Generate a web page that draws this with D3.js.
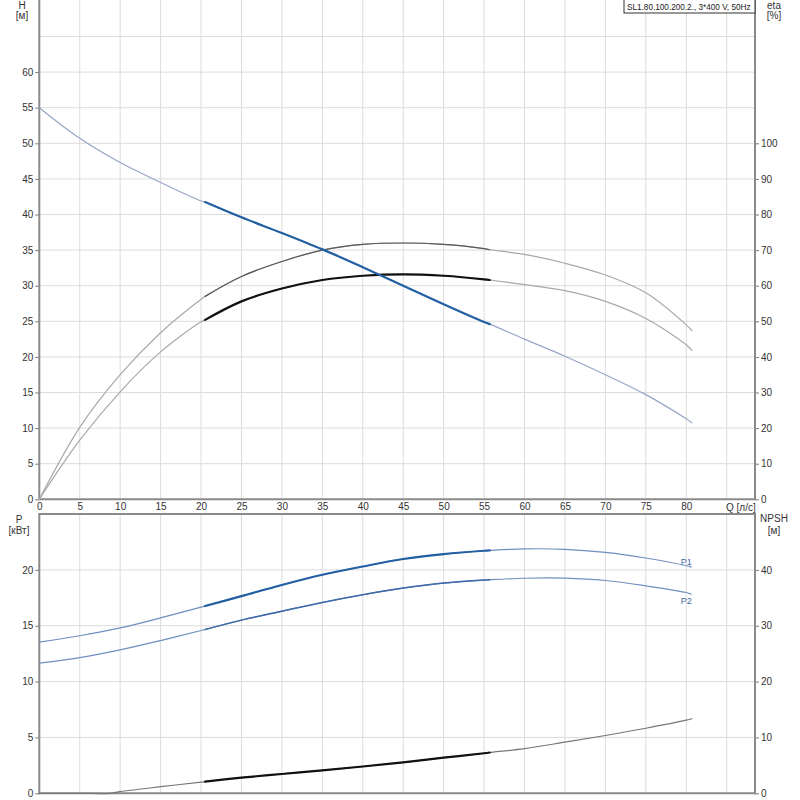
<!DOCTYPE html>
<html>
<head>
<meta charset="utf-8">
<script src="https://cdn.jsdelivr.net/npm/d3@7"></script>
<style>
  body { margin: 0; background: #fff; }
  text { font-family: "Liberation Sans", Arial, sans-serif; fill: #333; }
</style>
</head>
<body>
<div id="chart"></div>
<script>
// ---- data ----
let qHead = [0, 5, 10, 15, 20, 20.5, 25, 30, 35, 40, 45, 50, 55, 55.7, 60, 65, 70, 75, 80, 80.7];
let head  = [55.0, 50.7, 47.3, 44.5, 41.9, 41.75, 39.6, 37.4, 35.1, 32.6, 30.0, 27.4, 24.9, 24.6, 22.5, 20.1, 17.5, 14.7, 11.3, 10.75];

let qEta   = [0, 5, 10, 15, 20, 20.5, 25, 30, 35, 40, 45, 50, 55, 55.7, 60, 65, 70, 75, 80, 80.7];
let etaHyd = [0, 20.2, 35, 46.8, 56.2, 57.0, 62.6, 66.8, 70, 71.6, 72, 71.6, 70.4, 70.1, 68.8, 66.3, 63, 58, 49, 47.4];
let etaTot = [0, 16.6, 30.2, 41.4, 49.9, 50.4, 55.6, 59.2, 61.6, 62.8, 63.2, 62.8, 61.8, 61.6, 60.3, 58.6, 55.6, 50.8, 43.4, 41.8];

let qPow = [0, 5, 10, 15, 20, 20.5, 25, 30, 35, 40, 45, 50, 55, 55.7, 60, 65, 70, 75, 80, 80.6];
let p1   = [13.53, 14.1, 14.8, 15.7, 16.67, 16.76, 17.65, 18.65, 19.56, 20.3, 20.97, 21.41, 21.71, 21.74, 21.88, 21.84, 21.56, 21.06, 20.37, 20.25];
let p2   = [11.65, 12.15, 12.84, 13.67, 14.57, 14.66, 15.5, 16.3, 17.08, 17.77, 18.37, 18.82, 19.09, 19.12, 19.25, 19.26, 19.05, 18.57, 17.97, 17.83];

let qNpsh = [0, 5, 8.8, 10, 15, 20, 20.5, 25, 30, 35, 40, 45, 50, 55, 55.7, 60, 65, 70, 75, 80, 80.7];
let npsh  = [0, 0, 0, 0.3, 1.18, 2.0, 2.1, 2.8, 3.46, 4.1, 4.8, 5.55, 6.38, 7.17, 7.3, 8.0, 9.15, 10.35, 11.65, 13.1, 13.35];

let qTicks    = [0, 5, 10, 15, 20, 25, 30, 35, 40, 45, 50, 55, 60, 65, 70, 75, 80];
let qGrid     = [5, 10, 15, 20, 25, 30, 35, 40, 45, 50, 55, 60, 65, 70, 75, 80, 85];
let hTicks    = [0, 5, 10, 15, 20, 25, 30, 35, 40, 45, 50, 55, 60];
let hGrid     = [5, 10, 15, 20, 25, 30, 35, 40, 45, 50, 55, 60, 65];
let etaTicks  = [0, 10, 20, 30, 40, 50, 60, 70, 80, 90, 100];
let pTicks    = [0, 5, 10, 15, 20];
let npshTicks = [0, 10, 20, 30, 40];
let dutyRange = [20.5, 55.7];
let pumpLabel = "SL1.80.100.200.2., 3*400 V, 50Hz";

// ---- layout ----
let left = 39.3, right = 755;
let topY0 = 499.3, topY1 = 0.9;
let botY0 = 793.3, botY1 = 514;

let svg = d3.select("#chart").append("svg")
    .attr("width", 800)
    .attr("height", 800);

let x = d3.scaleLinear().domain([0, 88.5]).range([left, right]);
let yH = d3.scaleLinear().domain([0, 70]).range([topY0, topY1]);
let yEta = d3.scaleLinear().domain([0, 140]).range([topY0, topY1]);
let yP = d3.scaleLinear().domain([0, 25]).range([botY0, botY1]);
let yN = d3.scaleLinear().domain([0, 50]).range([botY0, botY1]);

// grids
let grid = svg.append("g").attr("stroke", "#dcdcdc").attr("stroke-width", 1);
qGrid.forEach(q => {
    grid.append("line").attr("x1", x(q)).attr("x2", x(q)).attr("y1", topY1 - 1).attr("y2", topY0);
    grid.append("line").attr("x1", x(q)).attr("x2", x(q)).attr("y1", botY1).attr("y2", botY0);
});
hGrid.forEach(h => {
    grid.append("line").attr("x1", left).attr("x2", right).attr("y1", yH(h)).attr("y2", yH(h));
});
pTicks.filter(p => p > 0).forEach(p => {
    grid.append("line").attr("x1", left).attr("x2", right).attr("y1", yP(p)).attr("y2", yP(p));
});

// axes
function styleAxis(g) {
    g.select(".domain").remove();
    g.selectAll(".tick line").attr("stroke", "#777");
    g.selectAll(".tick text").attr("font-size", 10).attr("fill", "#333");
}

svg.append("g").attr("transform", `translate(${left},0)`)
    .call(d3.axisLeft(yH).tickValues(hTicks).tickSize(4).tickPadding(2))
    .call(styleAxis);
svg.append("g").attr("transform", `translate(${right},0)`)
    .call(d3.axisRight(yEta).tickValues(etaTicks).tickSize(4).tickPadding(2))
    .call(styleAxis);
svg.append("g").attr("transform", `translate(0,${topY0})`)
    .call(d3.axisBottom(x).tickValues(qTicks).tickSize(0).tickPadding(4))
    .call(styleAxis);
svg.append("g").attr("transform", `translate(${left},0)`)
    .call(d3.axisLeft(yP).tickValues(pTicks).tickSize(4).tickPadding(2))
    .call(styleAxis);
svg.append("g").attr("transform", `translate(${right},0)`)
    .call(d3.axisRight(yN).tickValues(npshTicks).tickSize(4).tickPadding(2))
    .call(styleAxis);

// frame lines
let frame = svg.append("g").attr("stroke", "#8a8a8a").attr("stroke-width", 2);
frame.append("line").attr("x1", left).attr("x2", left).attr("y1", 0).attr("y2", topY0 + 1);
frame.append("line").attr("x1", right).attr("x2", right).attr("y1", 0).attr("y2", topY0 + 1);
frame.append("line").attr("x1", left).attr("x2", right).attr("y1", topY0).attr("y2", topY0);
frame.append("line").attr("x1", left).attr("x2", left).attr("y1", botY1 - 1).attr("y2", botY0 + 1);
frame.append("line").attr("x1", right).attr("x2", right).attr("y1", botY1 - 1).attr("y2", botY0 + 1);
frame.append("line").attr("x1", left).attr("x2", right).attr("y1", botY1).attr("y2", botY1);
frame.append("line").attr("x1", left).attr("x2", right).attr("y1", botY0).attr("y2", botY0);

// axis titles
function label(tx, ty, str, anchor) {
    svg.append("text").attr("x", tx).attr("y", ty)
        .attr("font-size", 10).attr("text-anchor", anchor || "middle").text(str);
}
label(22, 9, "H");
label(22, 19, "[м]");
label(774, 9, "eta");
label(774, 19, "[%]");
label(19, 523, "P");
label(19, 534, "[кВт]");
label(774, 522, "NPSH");
label(774, 534, "[м]");
label(726, 511, "Q [л/с]", "start");

// curves
function drawCurve(qs, vs, yScale, color, width, range) {
    let pts = qs.map((q, i) => [q, vs[i]]);
    if (range) pts = pts.filter(d => d[0] >= range[0] && d[0] <= range[1]);
    let line = d3.line()
        .x(d => x(d[0]))
        .y(d => yScale(d[1]))
        .curve(d3.curveCatmullRom.alpha(0.5));
    svg.append("path")
        .datum(pts)
        .attr("d", line)
        .attr("fill", "none")
        .attr("stroke", color)
        .attr("stroke-width", width)
        .attr("stroke-linecap", "round");
}

// top chart
drawCurve(qEta, etaHyd, yEta, "#a8a8a8", 1.2);
drawCurve(qEta, etaHyd, yEta, "#5a5a5a", 1.2, dutyRange);
drawCurve(qEta, etaTot, yEta, "#a8a8a8", 1.2);
drawCurve(qEta, etaTot, yEta, "#111", 2.2, dutyRange);
drawCurve(qHead, head, yH, "#97a6c6", 1.2);
drawCurve(qHead, head, yH, "#2360a3", 2.2, dutyRange);

// bottom chart
drawCurve(qPow, p1, yP, "#6f8fbf", 1.2);
drawCurve(qPow, p1, yP, "#2360a3", 2.2, dutyRange);
drawCurve(qPow, p2, yP, "#6f8fbf", 1.2);
drawCurve(qPow, p2, yP, "#3e6aa8", 1.5, dutyRange);
drawCurve(qNpsh, npsh, yN, "#777", 1.2);
drawCurve(qNpsh, npsh, yN, "#111", 2.2, dutyRange);

svg.append("text").attr("x", x(80)).attr("y", yP(p1[p1.length - 1]) - 2)
    .attr("font-size", 9).attr("text-anchor", "middle").style("fill", "#3e6aa8").text("P1");
svg.append("text").attr("x", x(80)).attr("y", yP(p2[p2.length - 1]) + 10)
    .attr("font-size", 9).attr("text-anchor", "middle").style("fill", "#3e6aa8").text("P2");

// pump label box
let box = svg.append("g");
box.append("rect")
    .attr("x", 624).attr("y", -1)
    .attr("width", 131).attr("height", 14)
    .attr("fill", "#fff").attr("stroke", "#333").attr("stroke-width", 1);
box.append("text").attr("x", 627).attr("y", 10)
    .attr("font-size", 8.2)
    .style("fill", "#222").text(pumpLabel);
</script>
</body>
</html>
